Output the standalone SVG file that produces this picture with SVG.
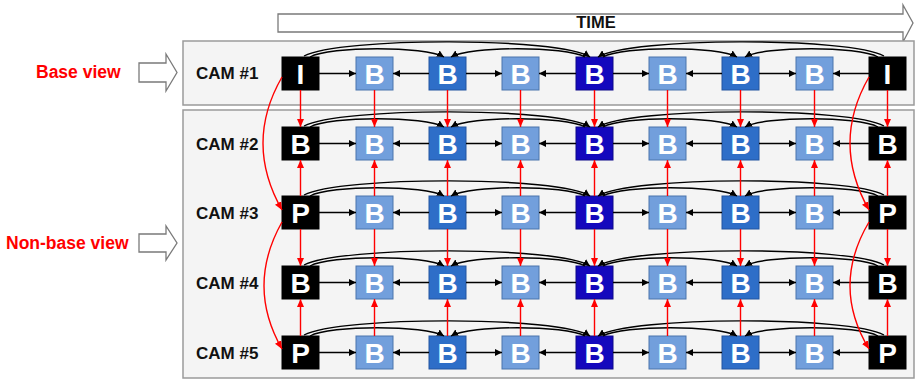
<svg xmlns="http://www.w3.org/2000/svg" width="917" height="380" viewBox="0 0 917 380">
  <style>
    .panel { fill: #f4f4f4; stroke: #9a9a9a; stroke-width: 1.5; }
    .block { fill: #ffffff; stroke: #7a7a7a; stroke-width: 1.3; }
    .side { font-family: "Liberation Sans", Arial, sans-serif; font-weight: bold; font-size: 17.5px; fill: #ff0000; }
    .cam { font-family: "Liberation Sans", Arial, sans-serif; font-weight: bold; font-size: 17px; fill: #111111; }
    .time { font-family: "Liberation Sans", Arial, sans-serif; font-weight: bold; font-size: 16.5px; fill: #111111; }
    .frame text { font-family: "Liberation Sans", Arial, sans-serif; font-weight: bold; font-size: 28px; fill: #ffffff; text-anchor: middle; }
    .k rect { fill: #000000; stroke: #000000; stroke-width: 1; }
    .l rect { fill: #729fdc; stroke: #4a74ac; stroke-width: 1; }
    .m rect { fill: #2e6ec8; stroke: #2255a0; stroke-width: 1; }
    .d rect { fill: #1408bd; stroke: #0c0888; stroke-width: 1; }
    .h { stroke: #000000; stroke-width: 1.4; fill: none; marker-end: url(#ah); }
    .arc { stroke: #000000; stroke-width: 1.4; fill: none; marker-end: url(#ah); }
    .v { stroke: #ff0000; stroke-width: 1.4; fill: none; marker-end: url(#ar); }
  </style>
  <defs>
    <marker id="ah" markerUnits="userSpaceOnUse" markerWidth="7" markerHeight="7" refX="7" refY="3.5" orient="auto">
      <path d="M0,0 L7,3.5 L0,7 z" fill="#000000"/>
    </marker>
    <marker id="ar" markerUnits="userSpaceOnUse" markerWidth="8" markerHeight="8" refX="8" refY="4" orient="auto">
      <path d="M0,0.5 L8,4 L0,7.5 z" fill="#ff0000"/>
    </marker>
    <!-- one frame row: arcs above plus horizontal arrows -->
    <g id="rowlinks">
      <path class="arc" d="M310 0 C330 -11 425 -11 444 0"/>
      <path class="arc" d="M585 0 C565 -11 470 -11 451 0"/>
      <path class="arc" d="M304 -1 C340 -20 560 -20 590 0"/>
      <path class="arc" d="M884 -1 C850 -20 630 -20 598 0"/>
      <path class="arc" d="M603 0 C623 -11 718 -11 737 0"/>
      <path class="arc" d="M878 0 C858 -11 764 -11 745 0"/>
      <path class="h" d="M319 16.5 L356 16.5"/>
      <path class="h" d="M429 16.5 L393 16.5"/>
      <path class="h" d="M466 16.5 L502 16.5"/>
      <path class="h" d="M576 16.5 L539 16.5"/>
      <path class="h" d="M613 16.5 L649 16.5"/>
      <path class="h" d="M722 16.5 L686 16.5"/>
      <path class="h" d="M759 16.5 L796 16.5"/>
      <path class="h" d="M869 16.5 L833 16.5"/>
    </g>
  </defs>

  <!-- time axis -->
  <g id="time-axis">
    <polygon class="block" points="278,14 903,14 903,5 913,23 903,42 903,32 278,32"/>
    <text class="time" x="596" y="28" text-anchor="middle">TIME</text>
  </g>

  <!-- panels -->
  <rect class="panel" x="183" y="41" width="731" height="64"/>
  <rect class="panel" x="183" y="110" width="731" height="268"/>

  <!-- side labels -->
  <g id="base-view">
    <text class="side" x="36" y="78">Base view</text>
    <polygon class="block" points="139,63 166,63 166,54 177,72.5 166,91 166,82 139,82"/>
  </g>
  <g id="non-base-view">
    <text class="side" x="6" y="249">Non-base view</text>
    <polygon class="block" points="139,234 166,234 166,226 177,243 166,260 166,252 139,252"/>
  </g>

  <!-- camera labels -->
  <g id="cam-labels">
    <text class="cam" x="196" y="79">CAM #1</text>
    <text class="cam" x="196" y="149.5">CAM #2</text>
    <text class="cam" x="196" y="218.5">CAM #3</text>
    <text class="cam" x="196" y="289">CAM #4</text>
    <text class="cam" x="196" y="359">CAM #5</text>
  </g>

  <!-- frames -->
  <g id="cam1" class="frame">
    <g id="c1f0" class="k"><rect x="282" y="57" width="37" height="33"/><text x="300.5" y="84">I</text></g>
    <g id="c1f1" class="l"><rect x="356" y="57" width="37" height="33"/><text x="374.5" y="84">B</text></g>
    <g id="c1f2" class="m"><rect x="429" y="57" width="37" height="33"/><text x="447.5" y="84">B</text></g>
    <g id="c1f3" class="l"><rect x="502" y="57" width="37" height="33"/><text x="520.5" y="84">B</text></g>
    <g id="c1f4" class="d"><rect x="576" y="57" width="37" height="33"/><text x="594.5" y="84">B</text></g>
    <g id="c1f5" class="l"><rect x="649" y="57" width="37" height="33"/><text x="667.5" y="84">B</text></g>
    <g id="c1f6" class="m"><rect x="722" y="57" width="37" height="33"/><text x="740.5" y="84">B</text></g>
    <g id="c1f7" class="l"><rect x="796" y="57" width="37" height="33"/><text x="814.5" y="84">B</text></g>
    <g id="c1f8" class="k"><rect x="869" y="57" width="37" height="33"/><text x="887.5" y="84">I</text></g>
  </g>
  <g id="cam2" class="frame">
    <g id="c2f0" class="k"><rect x="282" y="127" width="37" height="33"/><text x="300.5" y="154">B</text></g>
    <g id="c2f1" class="l"><rect x="356" y="127" width="37" height="33"/><text x="374.5" y="154">B</text></g>
    <g id="c2f2" class="m"><rect x="429" y="127" width="37" height="33"/><text x="447.5" y="154">B</text></g>
    <g id="c2f3" class="l"><rect x="502" y="127" width="37" height="33"/><text x="520.5" y="154">B</text></g>
    <g id="c2f4" class="d"><rect x="576" y="127" width="37" height="33"/><text x="594.5" y="154">B</text></g>
    <g id="c2f5" class="l"><rect x="649" y="127" width="37" height="33"/><text x="667.5" y="154">B</text></g>
    <g id="c2f6" class="m"><rect x="722" y="127" width="37" height="33"/><text x="740.5" y="154">B</text></g>
    <g id="c2f7" class="l"><rect x="796" y="127" width="37" height="33"/><text x="814.5" y="154">B</text></g>
    <g id="c2f8" class="k"><rect x="869" y="127" width="37" height="33"/><text x="887.5" y="154">B</text></g>
  </g>
  <g id="cam3" class="frame">
    <g id="c3f0" class="k"><rect x="282" y="196" width="37" height="33"/><text x="300.5" y="223">P</text></g>
    <g id="c3f1" class="l"><rect x="356" y="196" width="37" height="33"/><text x="374.5" y="223">B</text></g>
    <g id="c3f2" class="m"><rect x="429" y="196" width="37" height="33"/><text x="447.5" y="223">B</text></g>
    <g id="c3f3" class="l"><rect x="502" y="196" width="37" height="33"/><text x="520.5" y="223">B</text></g>
    <g id="c3f4" class="d"><rect x="576" y="196" width="37" height="33"/><text x="594.5" y="223">B</text></g>
    <g id="c3f5" class="l"><rect x="649" y="196" width="37" height="33"/><text x="667.5" y="223">B</text></g>
    <g id="c3f6" class="m"><rect x="722" y="196" width="37" height="33"/><text x="740.5" y="223">B</text></g>
    <g id="c3f7" class="l"><rect x="796" y="196" width="37" height="33"/><text x="814.5" y="223">B</text></g>
    <g id="c3f8" class="k"><rect x="869" y="196" width="37" height="33"/><text x="887.5" y="223">P</text></g>
  </g>
  <g id="cam4" class="frame">
    <g id="c4f0" class="k"><rect x="282" y="266" width="37" height="33"/><text x="300.5" y="293">B</text></g>
    <g id="c4f1" class="l"><rect x="356" y="266" width="37" height="33"/><text x="374.5" y="293">B</text></g>
    <g id="c4f2" class="m"><rect x="429" y="266" width="37" height="33"/><text x="447.5" y="293">B</text></g>
    <g id="c4f3" class="l"><rect x="502" y="266" width="37" height="33"/><text x="520.5" y="293">B</text></g>
    <g id="c4f4" class="d"><rect x="576" y="266" width="37" height="33"/><text x="594.5" y="293">B</text></g>
    <g id="c4f5" class="l"><rect x="649" y="266" width="37" height="33"/><text x="667.5" y="293">B</text></g>
    <g id="c4f6" class="m"><rect x="722" y="266" width="37" height="33"/><text x="740.5" y="293">B</text></g>
    <g id="c4f7" class="l"><rect x="796" y="266" width="37" height="33"/><text x="814.5" y="293">B</text></g>
    <g id="c4f8" class="k"><rect x="869" y="266" width="37" height="33"/><text x="887.5" y="293">B</text></g>
  </g>
  <g id="cam5" class="frame">
    <g id="c5f0" class="k"><rect x="282" y="336" width="37" height="33"/><text x="300.5" y="363">P</text></g>
    <g id="c5f1" class="l"><rect x="356" y="336" width="37" height="33"/><text x="374.5" y="363">B</text></g>
    <g id="c5f2" class="m"><rect x="429" y="336" width="37" height="33"/><text x="447.5" y="363">B</text></g>
    <g id="c5f3" class="l"><rect x="502" y="336" width="37" height="33"/><text x="520.5" y="363">B</text></g>
    <g id="c5f4" class="d"><rect x="576" y="336" width="37" height="33"/><text x="594.5" y="363">B</text></g>
    <g id="c5f5" class="l"><rect x="649" y="336" width="37" height="33"/><text x="667.5" y="363">B</text></g>
    <g id="c5f6" class="m"><rect x="722" y="336" width="37" height="33"/><text x="740.5" y="363">B</text></g>
    <g id="c5f7" class="l"><rect x="796" y="336" width="37" height="33"/><text x="814.5" y="363">B</text></g>
    <g id="c5f8" class="k"><rect x="869" y="336" width="37" height="33"/><text x="887.5" y="363">P</text></g>
  </g>

  <!-- prediction connectors -->
  <g id="connectors">
    <use href="#rowlinks" y="57"/>
    <use href="#rowlinks" y="127"/>
    <use href="#rowlinks" y="196"/>
    <use href="#rowlinks" y="266"/>
    <use href="#rowlinks" y="336"/>

    <!-- inter-view references -->
    <path class="v" d="M300.5 90 L300.5 127"/>
    <path class="v" d="M374.5 90 L374.5 127"/>
    <path class="v" d="M447.5 90 L447.5 127"/>
    <path class="v" d="M520.5 90 L520.5 127"/>
    <path class="v" d="M594.5 90 L594.5 127"/>
    <path class="v" d="M667.5 90 L667.5 127"/>
    <path class="v" d="M740.5 90 L740.5 127"/>
    <path class="v" d="M814.5 90 L814.5 127"/>
    <path class="v" d="M887.5 90 L887.5 127"/>

    <path class="v" d="M300.5 196 L300.5 160"/>
    <path class="v" d="M374.5 196 L374.5 160"/>
    <path class="v" d="M447.5 196 L447.5 160"/>
    <path class="v" d="M520.5 196 L520.5 160"/>
    <path class="v" d="M594.5 196 L594.5 160"/>
    <path class="v" d="M667.5 196 L667.5 160"/>
    <path class="v" d="M740.5 196 L740.5 160"/>
    <path class="v" d="M814.5 196 L814.5 160"/>
    <path class="v" d="M887.5 196 L887.5 160"/>

    <path class="v" d="M300.5 229 L300.5 266"/>
    <path class="v" d="M374.5 229 L374.5 266"/>
    <path class="v" d="M447.5 229 L447.5 266"/>
    <path class="v" d="M520.5 229 L520.5 266"/>
    <path class="v" d="M594.5 229 L594.5 266"/>
    <path class="v" d="M667.5 229 L667.5 266"/>
    <path class="v" d="M740.5 229 L740.5 266"/>
    <path class="v" d="M814.5 229 L814.5 266"/>
    <path class="v" d="M887.5 229 L887.5 266"/>

    <path class="v" d="M300.5 336 L300.5 299"/>
    <path class="v" d="M374.5 336 L374.5 299"/>
    <path class="v" d="M447.5 336 L447.5 299"/>
    <path class="v" d="M520.5 336 L520.5 299"/>
    <path class="v" d="M594.5 336 L594.5 299"/>
    <path class="v" d="M667.5 336 L667.5 299"/>
    <path class="v" d="M740.5 336 L740.5 299"/>
    <path class="v" d="M814.5 336 L814.5 299"/>
    <path class="v" d="M887.5 336 L887.5 299"/>

    <!-- anchor-view (I to P to P) curves -->
    <path class="v" d="M282 77 Q244 143 282 210"/>
    <path class="v" d="M282 222 Q246 286 282 349"/>
    <path class="v" d="M869 77 Q831 143 869 210"/>
    <path class="v" d="M869 222 Q831 286 869 349"/>
  </g>
</svg>
